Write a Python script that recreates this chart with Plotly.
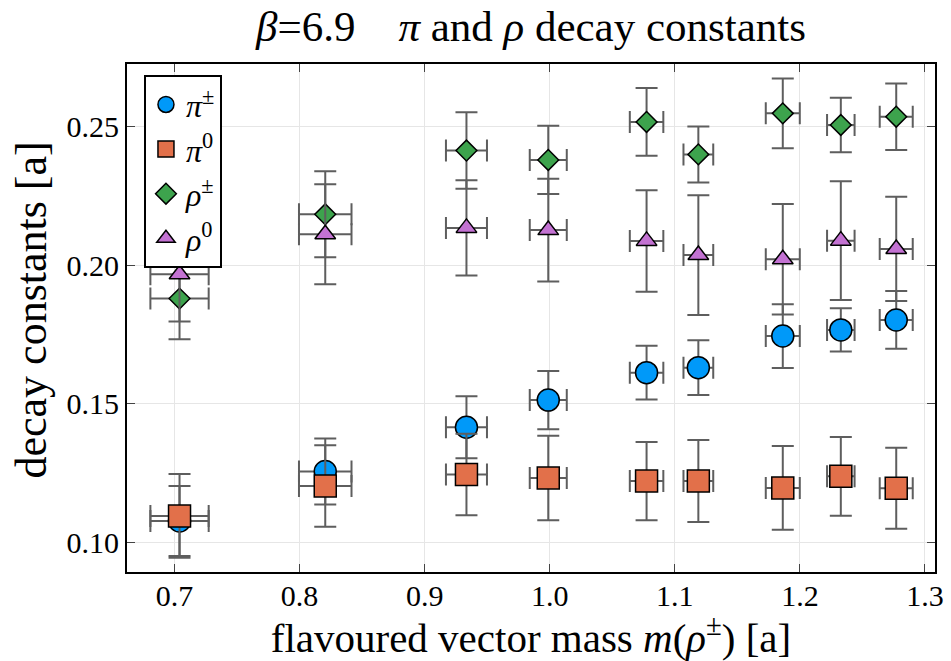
import plotly.graph_objects as go

# data
mass = [0.704, 0.8205, 0.9334, 0.9988, 1.0774, 1.1188, 1.1863, 1.2327, 1.277]
mass_err = [0.0233, 0.021, 0.0164, 0.0148, 0.0134, 0.0119, 0.0136, 0.011, 0.0132]

pi_pm = [0.1077, 0.1255, 0.1415, 0.1513, 0.1612, 0.1630, 0.1744, 0.1766, 0.1802]
pi_pm_err = [0.0126, 0.0119, 0.0112, 0.0105, 0.0097, 0.0099, 0.0115, 0.0078, 0.0104]
pi_0 = [0.1095, 0.1203, 0.1245, 0.1232, 0.1221, 0.1221, 0.1196, 0.1238, 0.1195]
pi_0_err = [0.0151, 0.0147, 0.0147, 0.0152, 0.0141, 0.0148, 0.0151, 0.0142, 0.0146]
rho_pm = [0.1879, 0.2183, 0.2413, 0.2379, 0.2516, 0.2399, 0.2547, 0.2505, 0.2535]
rho_pm_err = [0.0147, 0.0155, 0.0138, 0.0123, 0.0122, 0.0101, 0.0126, 0.0098, 0.012]
rho_0 = [0.1967, 0.2111, 0.2134, 0.2126, 0.2087, 0.2036, 0.2021, 0.2088, 0.2058]
rho_0_err = [0.0171, 0.018, 0.0172, 0.0185, 0.0183, 0.0216, 0.0199, 0.0214, 0.0188]

names = ["<i>π</i><sup>±</sup>", "<i>π</i><sup>0</sup>", "<i>ρ</i><sup>±</sup>", "<i>ρ</i><sup>0</sup>"]
series = [pi_pm, pi_0, rho_pm, rho_0]
errors = [pi_pm_err, pi_0_err, rho_pm_err, rho_0_err]
colors = ["#0099f9", "#e2704a", "#3da34d", "#c372d2"]
symbols = ["circle", "square", "diamond", "triangle-up"]
sizes = [22, 22, 16, 18]

FONT = "Liberation Serif"
ERRC = "#5e5e5e"

fig = go.Figure()
for name, ys, es, c, s, sz in zip(names, series, errors, colors, symbols, sizes):
    fig.add_trace(go.Scatter(
        x=mass, y=ys, mode="markers", name=name,
        marker=dict(color=c, symbol=s, size=sz, line=dict(color="black", width=1.5)),
        error_y=dict(type="data", array=es, color=ERRC, thickness=2, width=11),
        error_x=dict(type="data", array=mass_err, color=ERRC, thickness=2, width=11),
    ))

axis_common = dict(
    showline=True, linecolor="black", linewidth=2, mirror="ticks",
    ticks="inside", ticklen=8, tickcolor="#444", tickwidth=1,
    showgrid=True, gridcolor="#e6e6e6", gridwidth=1, zeroline=False,
    tickfont=dict(family=FONT, size=30, color="black"),
)

fig.update_layout(
    width=951, height=661,
    margin=dict(l=127, r=7, t=64, b=89),
    paper_bgcolor="white", plot_bgcolor="white",
    title=dict(text="<i>β</i>=6.9\u00a0\u00a0\u00a0\u00a0<i>π</i> and <i>ρ</i> decay constants",
               x=0.5, xref="paper", xanchor="center", y=1 - 26 / 661, yref="container", yanchor="middle",
               font=dict(family=FONT, size=43, color="black")),
    xaxis=dict(range=[0.662, 1.308], tickformat=".1f", dtick=0.1, tick0=0.7,
               ticklabelstandoff=-4,
               title=dict(text="flavoured vector mass <i>m</i>(<i>ρ</i><sup>±</sup>) [a]",
                          font=dict(family=FONT, size=41, color="black"), standoff=2),
               **axis_common),
    yaxis=dict(range=[0.0893, 0.2725], tickformat=".2f", dtick=0.05, tick0=0.1,
               **axis_common),
    annotations=[dict(text="decay constants [a]", textangle=-90, showarrow=False,
                      xref="paper", yref="paper", x=-0.1187, y=0.515,
                      xanchor="center", yanchor="middle",
                      font=dict(family=FONT, size=44, color="black"))],
    legend=dict(x=0.021, y=0.978, xanchor="left", yanchor="top",
                bgcolor="white", bordercolor="black", borderwidth=2,
                font=dict(family=FONT, size=32, color="black"),
                itemsizing="trace", tracegroupgap=0),
    showlegend=True,
)

fig.write_html("out.html")
